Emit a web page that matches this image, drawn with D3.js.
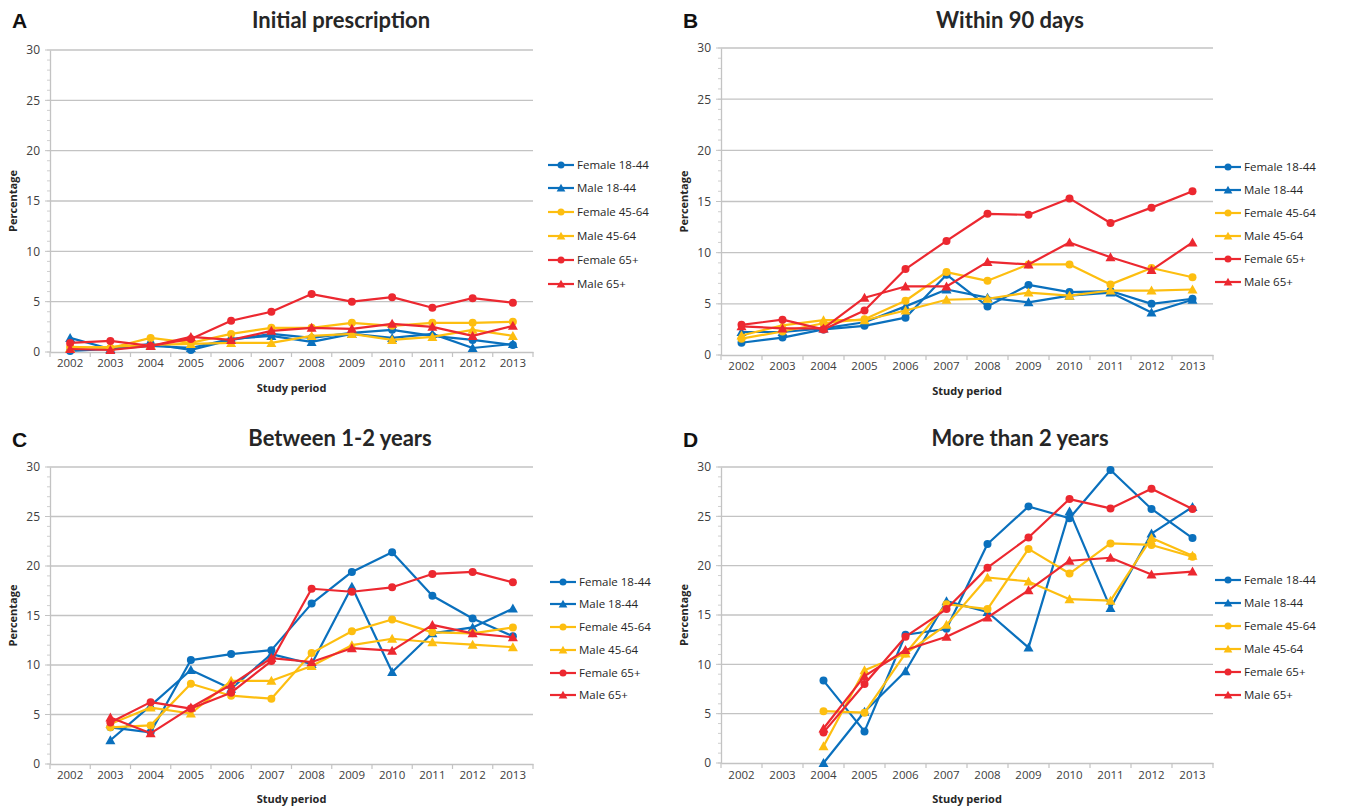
<!DOCTYPE html>
<html><head><meta charset="utf-8">
<script src="https://cdn.jsdelivr.net/npm/d3@7"></script>
<style>body{margin:0;background:#fff;} svg{display:block;}</style>
</head><body>
<svg id="chart" width="1346" height="808"></svg>
<script>
const years = ["2002","2003","2004","2005","2006","2007","2008","2009","2010","2011","2012","2013"];
const yTicks = [0,5,10,15,20,25,30];
const seriesNames = ["Female 18-44","Male 18-44","Female 45-64","Male 45-64","Female 65+","Male 65+"];
const panelLetters = ["A","B","C","D"];
const panelTitles = ["Initial prescription","Within 90 days","Between 1-2 years","More than 2 years"];

// Panel A: Initial prescription
const A_F1844 = [0.1,0.3,0.8,0.2,1.2,1.8,1.4,1.9,2.2,1.6,1.2,0.7];
const A_M1844 = [1.4,0.3,0.6,0.4,1.3,1.6,1.0,1.8,1.4,1.8,0.4,0.8];
const A_F4564 = [0.5,0.4,1.4,0.9,1.8,2.4,2.4,2.9,2.6,2.9,2.9,3.0];
const A_M4564 = [0.4,0.5,0.7,0.8,0.9,0.9,1.6,1.8,1.2,1.5,2.2,1.6];
const A_F65 = [0.9,1.1,0.6,1.3,3.1,4.0,5.75,5.0,5.45,4.4,5.35,4.9];
const A_M65 = [0.3,0.2,0.6,1.5,1.2,2.1,2.4,2.3,2.8,2.5,1.6,2.6];
// Panel B: Within 90 days
const B_F1844 = [1.2,1.7,2.5,2.85,3.65,7.85,4.75,6.85,6.15,6.25,5.0,5.5];
const B_M1844 = [2.25,2.25,2.6,3.2,4.75,6.4,5.6,5.15,5.8,6.1,4.15,5.4];
const B_F4564 = [1.6,2.3,3.1,3.5,5.3,8.1,7.25,8.85,8.85,6.9,8.5,7.6];
const B_M4564 = [1.9,2.9,3.4,3.4,4.35,5.4,5.5,6.1,5.8,6.3,6.3,6.4];
const B_F65 = [2.95,3.45,2.5,4.35,8.4,11.15,13.8,13.7,15.3,12.9,14.4,16.0];
const B_M65 = [2.8,2.6,2.6,5.6,6.7,6.7,9.1,8.85,11.0,9.55,8.3,11.0];
// Panel C: Between 1-2 years
const C_F1844 = [null,3.7,3.2,10.5,11.1,11.5,16.2,19.4,21.4,17.0,14.7,12.9];
const C_M1844 = [null,2.4,5.9,9.5,7.6,11.1,10.1,17.9,9.3,13.2,13.8,15.7];
const C_F4564 = [null,3.7,3.9,8.1,6.9,6.6,11.2,13.4,14.6,13.3,13.2,13.8];
const C_M4564 = [null,4.05,5.7,5.1,8.4,8.4,9.9,12.0,12.65,12.3,12.05,11.8];
const C_F65 = [null,4.2,6.25,5.6,7.2,10.4,17.7,17.4,17.85,19.2,19.4,18.35];
const C_M65 = [null,4.7,3.1,5.7,8.0,10.7,10.3,11.7,11.45,14.05,13.2,12.8];
// Panel D: More than 2 years
const D_F1844 = [null,null,8.35,3.2,13.0,13.6,22.2,26.0,24.8,29.7,25.75,22.8];
const D_M1844 = [null,null,0.0,5.2,9.3,16.4,15.3,11.7,25.5,15.7,23.25,25.95];
const D_F4564 = [null,null,5.25,5.1,11.1,16.1,15.6,21.7,19.2,22.25,22.1,20.9];
const D_M4564 = [null,null,1.7,9.4,11.1,14.0,18.8,18.4,16.6,16.45,22.8,21.0];
const D_F65 = [null,null,3.1,8.0,12.8,15.6,19.8,22.85,26.75,25.8,27.8,25.75];
const D_M65 = [null,null,3.5,8.8,11.45,12.8,14.75,17.5,20.5,20.8,19.1,19.4];

const panelData = [
  [A_F1844,A_M1844,A_F4564,A_M4564,A_F65,A_M65],
  [B_F1844,B_M1844,B_F4564,B_M4564,B_F65,B_M65],
  [C_F1844,C_M1844,C_F4564,C_M4564,C_F65,C_M65],
  [D_F1844,D_M1844,D_F4564,D_M4564,D_F65,D_M65]
];

const colors = ["#0A70BD","#0A70BD","#FDBE10","#FDBE10","#EC2830","#EC2830"];
const shapes = ["circle","triangle","circle","triangle","circle","triangle"];

const layouts = [
  {left:50, right:533, top:50, bottom:352, letterX:12, letterY:28, titleX:341, titleY:28, legX:548, legY:[165,188,212,236,260,284], xlabY:368, studyY:392, percX:17},
  {left:721, right:1213, top:48, bottom:355, letterX:683, letterY:28, titleX:1010, titleY:28, legX:1215, legY:[167,190,213,236,259,282], xlabY:371, studyY:395, percX:688},
  {left:50, right:533, top:467, bottom:764, letterX:12, letterY:447, titleX:340, titleY:446, legX:550, legY:[582,604,627,650,673,695], xlabY:780, studyY:803, percX:17},
  {left:721, right:1213, top:467, bottom:763, letterX:683, letterY:447, titleX:1020, titleY:446, legX:1215, legY:[580,603,626,649,672,695], xlabY:780, studyY:803, percX:688}
];

const svg = d3.select("#chart");
const font = "'Open Sans', 'DejaVu Sans', sans-serif";
const gridColor = "#c3c3c3";

function marker(g, shape, x, y, color, size) {
  if (shape === "circle") {
    g.append("circle").attr("cx", x).attr("cy", y).attr("r", size).attr("fill", color);
  } else {
    const s = size * 1.25;
    g.append("path").attr("d", `M${x},${y - s} L${x + s},${y + s * 0.8} L${x - s},${y + s * 0.8} Z`).attr("fill", color);
  }
}

layouts.forEach((L, pi) => {
  const g = svg.append("g");
  const x = d3.scaleBand().domain(years).range([L.left, L.right]);
  const y = d3.scaleLinear().domain([0, 30]).range([L.bottom, L.top]);

  // gridlines
  g.selectAll(".grid").data(yTicks.filter(t => t > 0)).enter().append("line")
    .attr("x1", L.left).attr("x2", L.right)
    .attr("y1", d => y(d)).attr("y2", d => y(d))
    .attr("stroke", gridColor).attr("stroke-width", 1.3);

  // y axis
  const yAxis = d3.axisLeft(y).tickValues(yTicks).tickSize(0).tickPadding(10);
  const ya = g.append("g").attr("transform", `translate(${L.left},0)`).call(yAxis);
  ya.select(".domain").attr("stroke", gridColor).attr("stroke-width", 1.3);
  ya.selectAll("text").attr("font-family", font).attr("font-size", 12).attr("fill", "#404040");
  // minor ticks
  g.selectAll(".minor").data(d3.range(0, 30.01, 1)).enter().append("line")
    .attr("x1", L.left - 3).attr("x2", L.left)
    .attr("y1", d => y(d)).attr("y2", d => y(d))
    .attr("stroke", gridColor).attr("stroke-width", 0.8);
  g.selectAll(".major").data(yTicks).enter().append("line")
    .attr("x1", L.left - 5).attr("x2", L.left)
    .attr("y1", d => y(d)).attr("y2", d => y(d))
    .attr("stroke", gridColor).attr("stroke-width", 1);

  // x axis
  const xAxis = d3.axisBottom(x).tickSize(0).tickPadding(8);
  const xa = g.append("g").attr("transform", `translate(0,${L.bottom})`).call(xAxis);
  xa.select(".domain").attr("stroke", gridColor).attr("stroke-width", 1.3);
  xa.selectAll("text").attr("font-family", font).attr("font-size", 11.5).attr("fill", "#404040")
    .attr("y", L.xlabY - L.bottom - 9);
  g.selectAll(".xt").data(d3.range(0, years.length + 1)).enter().append("line")
    .attr("x1", i => L.left + i * x.step()).attr("x2", i => L.left + i * x.step())
    .attr("y1", L.bottom).attr("y2", L.bottom + 5)
    .attr("stroke", gridColor).attr("stroke-width", 1.2);

  // axis titles
  g.append("text").attr("x", (L.left + L.right) / 2).attr("y", L.studyY)
    .attr("text-anchor", "middle").attr("font-family", font).attr("font-weight", "bold")
    .attr("font-size", 11).attr("fill", "#262626").text("Study period");
  g.append("text").attr("transform", `translate(${L.percX},${(L.top + L.bottom) / 2}) rotate(-90)`)
    .attr("text-anchor", "middle").attr("font-family", font).attr("font-weight", "bold")
    .attr("font-size", 11).attr("fill", "#262626").text("Percentage");

  // title & letter
  g.append("text").attr("x", L.titleX).attr("y", L.titleY).attr("text-anchor", "middle")
    .attr("font-family", "Lato, 'Open Sans', sans-serif").attr("font-weight", "bold")
    .attr("font-size", 22).attr("fill", "#262626").text(panelTitles[pi]);
  g.append("text").attr("x", L.letterX).attr("y", L.letterY)
    .attr("font-family", "'Liberation Sans', Arial, sans-serif").attr("font-weight", "bold")
    .attr("font-size", 21).attr("fill", "#111").text(panelLetters[pi]);

  // series
  const line = d3.line().defined(d => d.v !== null)
    .x(d => x(d.yr) + x.bandwidth() / 2).y(d => y(d.v));
  panelData[pi].forEach((vals, si) => {
    const pts = years.map((yr, i) => ({yr, v: vals[i]}));
    const sg = g.append("g");
    sg.append("path").datum(pts).attr("d", line).attr("fill", "none")
      .attr("stroke", colors[si]).attr("stroke-width", 2.2).attr("stroke-linejoin", "round");
    pts.filter(d => d.v !== null).forEach(d => {
      marker(sg, shapes[si], x(d.yr) + x.bandwidth() / 2, y(d.v), colors[si], 4);
    });
  });

  // legend
  seriesNames.forEach((name, si) => {
    const ly = L.legY[si];
    const lg = g.append("g");
    lg.append("line").attr("x1", L.legX).attr("x2", L.legX + 26).attr("y1", ly).attr("y2", ly)
      .attr("stroke", colors[si]).attr("stroke-width", 2.2);
    marker(lg, shapes[si], L.legX + 13, ly, colors[si], 3.5);
    lg.append("text").attr("x", L.legX + 29).attr("y", ly + 4).attr("font-family", font)
      .attr("font-size", 11.5).attr("fill", "#262626").text(name);
  });
});
</script>
</body></html>
